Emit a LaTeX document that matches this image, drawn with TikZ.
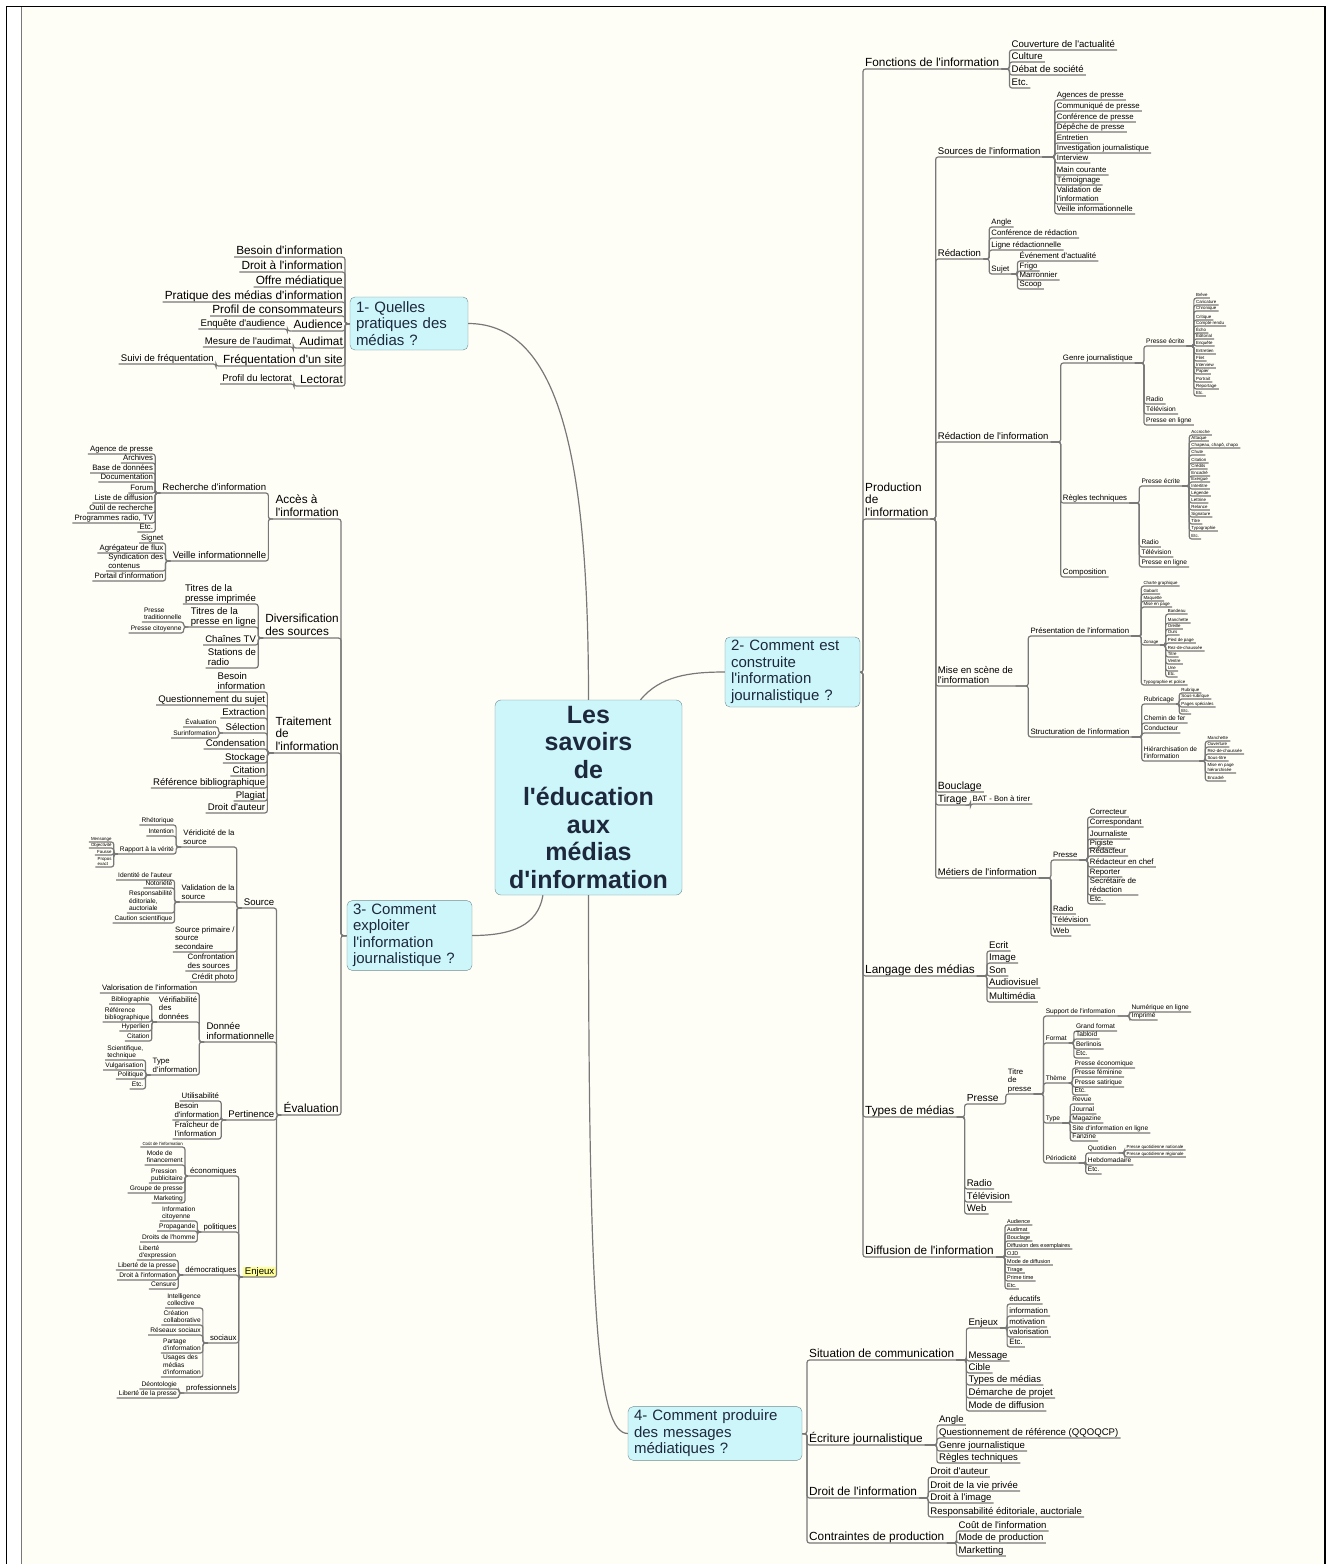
\documentclass[tikz,border=0pt]{standalone}
\usepackage{fontspec}
\setmainfont{Liberation Sans}[Ligatures=TeXOff]
\usepackage{xcolor}
\usetikzlibrary{calc}
\definecolor{bgc}{RGB}{255,254,246}
\definecolor{lnc}{RGB}{120,120,120}
\definecolor{boxc}{RGB}{204,246,250}
\definecolor{boxd}{RGB}{110,140,145}
\definecolor{ttc}{RGB}{30,40,60}
\definecolor{hlc}{RGB}{255,255,150}
%% trunk of a topic, then its children (y/text list)
\newcommand\trunkR[2]{\coordinate (#1-t) at ([xshift=#2]#1.south east);}
\newcommand\trunkL[2]{\coordinate (#1-t) at ([xshift=-#2]#1.south west);}
\newcommand\kidsR[3]{%
  \foreach \ky/\kt [count=\ki] in {#3}{%
    \node[#2, rside] (#1-\ki) at (#1-t |- 0,\ky) {\kt};
    \draw[link] (#1.south east) -| (#1-\ki.south west) -- (#1-\ki.south east);}}
\newcommand\kidsL[3]{%
  \foreach \ky/\kt [count=\ki] in {#3}{%
    \node[#2, lside] (#1-\ki) at (#1-t |- 0,\ky) {\kt};
    \draw[link] (#1.south west) -| (#1-\ki.south east) -- (#1-\ki.south west);}}
\newcommand\linkR[2]{\draw[link] (#1.south east) -| (#2.south west) -- (#2.south east);}
\newcommand\linkL[2]{\draw[link] (#1.south west) -| (#2.south east) -- (#2.south west);}

\begin{document}
\begin{tikzpicture}[x=1pt, y=-1pt,
  mm/.style={inner xsep=2pt, inner ysep=1pt, align=left, text=black},
  ua/.style={mm, text depth=1.6pt, font=\fontsize{11.8}{12.6}\selectfont},
  ub/.style={mm, text depth=1.3pt, font=\fontsize{9.6}{10.2}\selectfont},
  uc/.style={mm, text depth=1.1pt, font=\fontsize{7.8}{8.8}\selectfont},
  ud/.style={mm, text depth=.9pt, font=\fontsize{6.6}{7.6}\selectfont},
  uf/.style={mm, text depth=.8pt, inner ysep=.6pt, font=\fontsize{5.5}{6}\selectfont},
  ue/.style={mm, text depth=.7pt, inner ysep=.5pt, font=\fontsize{4.4}{4.8}\selectfont},
  rside/.style={anchor=south west},
  lside/.style={anchor=south east},
  link/.style={draw=lnc, line width=1.2pt, rounded corners=2.5pt},
  curv/.style={draw=lnc, line width=1.2pt},
  qbox/.style={draw=boxd, fill=boxc, rounded corners=5pt, align=left, inner xsep=6pt,
               font=\fontsize{15}{16.5}\selectfont, text=ttc},
  jct/.style={inner sep=0pt, minimum size=0pt}
]
\useasboundingbox (0,0) rectangle (1333,1564);
\fill[white] (0,0) rectangle (1333,1564);
\fill[bgc] (22,7) rectangle (1325,1564);
\draw[lnc, line width=1.2pt] (21.5,7) -- (21.5,1564);
\draw[black, line width=1.4pt] (6.5,1564) -- (6.5,6.5) -- (1325,6.5) -- (1325,1564);

%% centre and questions
\node[draw=boxd, fill=boxc, rounded corners=6pt, minimum width=187, minimum height=195,
      align=center, inner sep=1pt, text=ttc, font=\bfseries\fontsize{25}{27.5}\selectfont]
      (ctr) at (588.5,797.5) {Les\\savoirs\\de\\l'éducation\\aux\\médias\\d'information};
\node[qbox, text width=106, minimum height=53] (b1) at (409,323.5) {1- Quelles\\pratiques des\\médias ?};
\node[qbox, text width=123, minimum height=70] (b2) at (792.5,672) {2- Comment est\\construite\\l'information\\journalistique ?};
\node[qbox, text width=113, minimum height=69] (b3) at (409.5,935.5) {3- Comment\\exploiter\\l'information\\journalistique ?};
\node[qbox, text width=162, minimum height=53] (b4) at (715,1433.5) {4- Comment produire\\des messages\\médiatiques ?};
\draw[curv] (ctr.north) .. controls +(0,-230) and +(95,0) .. (b1.east);
\draw[curv] (ctr.62) .. controls +(20,-24) and +(-35,0) .. (b2.west);
\draw[curv] (ctr.245) .. controls +(-5,30) and +(40,0) .. (b3.east);
\draw[curv] (ctr.south) .. controls +(0,420) and +(-30,0) .. (b4.west);

%% 1- pratiques
\node[jct] (b1j) at (b1.west) {};
\coordinate (b1j-t) at (345,0);
\kidsL{b1j}{ua}{257/Besoin d'information, 272/Droit à l'information, 287/Offre médiatique,
  302/Pratique des médias d'information, 316/Profil de consommateurs}
\node[ua,lside] (aud) at (b1j-t |- 0,331) {Audience}; \linkL{b1j}{aud}
\node[ua,lside] (aum) at (b1j-t |- 0,348) {Audimat}; \linkL{b1j}{aum}
\node[ua,lside] (frq) at (b1j-t |- 0,366) {Fréquentation d'un site}; \linkL{b1j}{frq}
\node[ua,lside] (lec) at (b1j-t |- 0,386) {Lectorat}; \linkL{b1j}{lec}
\trunkL{aud}{4}\kidsL{aud}{ub}{329/Enquête d'audience}
\trunkL{aum}{4}\kidsL{aum}{ub}{347/Mesure de l'audimat}
\trunkL{frq}{5}\kidsL{frq}{ub}{364/Suivi de fréquentation}
\trunkL{lec}{4}\kidsL{lec}{ub}{384/Profil du lectorat}

%% 3- exploiter
\node[jct] (b3j) at (b3.west) {};
\coordinate (b3j-t) at (341,0);
\node[ua,lside] (acc) at (b3j-t |- 0,519) {Accès à\\l'information}; \linkL{b3j}{acc}
\node[ua,lside] (div) at (b3j-t |- 0,638) {Diversification\\des sources}; \linkL{b3j}{div}
\node[ua,lside] (trt) at (b3j-t |- 0,753) {Traitement\\de\\l'information}; \linkL{b3j}{trt}
\node[ua,lside] (eva) at (b3j-t |- 0,1115) {Évaluation}; \linkL{b3j}{eva}

\trunkL{acc}{5}
\node[ub,lside] (rch) at (acc-t |- 0,493) {Recherche d'information}; \linkL{acc}{rch}
\node[ub,lside] (vei) at (acc-t |- 0,561) {Veille informationnelle}; \linkL{acc}{vei}
\trunkL{rch}{5}\kidsL{rch}{uc}{454/Agence de presse, 463/Archives, 473/Base de données,
  482/Documentation, 493/Forum, 503/Liste de diffusion, 513/Outil de recherche,
  523/{Programmes radio, TV}, 532/Etc.}
\trunkL{vei}{5}\kidsL{vei}{uc}{543/Signet, 553/Agrégateur de flux,
  571/Syndication des\\contenus, 581/Portail d'information}

\trunkL{div}{5}
\kidsL{div}{ub}{604/Titres de la\\presse imprimée, 645/Chaînes TV, 668/Stations de\\radio}
\node[ub,lside] (tpl) at (div-t |- 0,627) {Titres de la\\presse en ligne}; \linkL{div}{tpl}
\trunkL{tpl}{5}\kidsL{tpl}{ud}{622/Presse\\traditionnelle, 633/Presse citoyenne}

\trunkL{trt}{6}
\kidsL{trt}{ub}{692/Besoin\\information, 705/Questionnement du sujet, 718/Extraction,
  749/Condensation, 763/Stockage, 776/Citation, 788/Référence bibliographique,
  801/Plagiat, 813/Droit d'auteur}
\node[ub,lside] (sel) at (trt-t |- 0,733) {Sélection}; \linkL{trt}{sel}
\trunkL{sel}{5}\kidsL{sel}{ud}{727/Évaluation, 738/Surinformation}

\trunkL{eva}{5}
\node[ub,lside] (sou) at (eva-t |- 0,908) {Source}; \linkL{eva}{sou}
\node[ub,lside] (don) at (eva-t |- 0,1042) {Donnée\\informationnelle}; \linkL{eva}{don}
\node[ub,lside] (per) at (eva-t |- 0,1120) {Pertinence}; \linkL{eva}{per}
\node[ub,lside,fill=hlc] (enj) at (eva-t |- 0,1277) {Enjeux}; \linkL{eva}{enj}

\trunkL{sou}{5}
\node[uc,lside] (ver) at (sou-t |- 0,847) {Véridicité de la\\source}; \linkL{sou}{ver}
\node[uc,lside] (val) at (sou-t |- 0,902) {Validation de la\\source}; \linkL{sou}{val}
\node[uc,lside] (sps) at (sou-t |- 0,952) {Source primaire /\\source\\secondaire}; \linkL{sou}{sps}
\kidsL{sou}{uc}{971/Confrontation\\des sources, 982/Crédit photo}
\trunkL{ver}{5}\kidsL{ver}{ud}{825/Rhétorique, 836/Intention}
\node[ud,lside] (rap) at (ver-t |- 0,854) {Rapport à la vérité}; \linkL{ver}{rap}
\trunkL{rap}{4}\kidsL{rap}{ue}{842/Mensonge, 848/Objectivité, 855/Fausse, 867/Propos\\exact}
\trunkL{val}{5}\kidsL{val}{ud}{880/Identité de l'auteur, 888/Notoriété,
  913/{Responsabilité\\éditoriale,\\auctoriale}, 923/Caution scientifique}

\trunkL{don}{5}
\kidsL{don}{uc}{993/Valorisation de l'information}
\node[uc,lside] (vrf) at (don-t |- 0,1022) {Vérifiabilité\\des\\données}; \linkL{don}{vrf}
\node[uc,lside] (tyi) at (don-t |- 0,1075) {Type\\d'information}; \linkL{don}{tyi}
\trunkL{vrf}{5}\kidsL{vrf}{ud}{1004/Bibliographie, 1022/Référence\\bibliographique,
  1031/Hyperlien, 1041/Citation}
\trunkL{tyi}{5}\kidsL{tyi}{ud}{1060/{Scientifique,\\technique}, 1070/Vulgarisation,
  1079/Politique, 1089/Etc.}

\trunkL{per}{5}\kidsL{per}{uc}{1101/Utilisabilité, 1120/Besoin\\d'information,
  1139/Fraîcheur de\\l'information}

\trunkL{enj}{4}
\node[uc,lside] (eco) at (enj-t |- 0,1176) {économiques}; \linkL{enj}{eco}
\node[uc,lside] (pol) at (enj-t |- 0,1232) {politiques}; \linkL{enj}{pol}
\node[uc,lside] (dem) at (enj-t |- 0,1275) {démocratiques}; \linkL{enj}{dem}
\node[uc,lside] (soc) at (enj-t |- 0,1343) {sociaux}; \linkL{enj}{soc}
\node[uc,lside] (pro) at (enj-t |- 0,1393) {professionnels}; \linkL{enj}{pro}
\trunkL{eco}{3}
\node[ue,lside] (cou) at (eco-t |- 0,1147) {Coût de l'information}; \linkL{eco}{cou}
\kidsL{eco}{ud}{1165/Mode de\\financement, 1183/Pression\\publicitaire,
  1193/Groupe de presse, 1203/Marketing}
\trunkL{pol}{4}\kidsL{pol}{ud}{1221/Information\\citoyenne, 1231/Propagande, 1242/Droits de l'homme}
\trunkL{dem}{5}\kidsL{dem}{ud}{1260/Liberté\\d'expression, 1270/Liberté de la presse,
  1280/Droit à l'information, 1289/Censure}
\trunkL{soc}{5}\kidsL{soc}{ud}{1308/Intelligence\\collective, 1325/Création\\collaborative,
  1335/Réseaux sociaux, 1353/Partage\\d'information, 1377/Usages des\\médias\\d'information}
\trunkL{pro}{5}\kidsL{pro}{ud}{1389/Déontologie, 1398/Liberté de la presse}

%% 2- construite
\node[jct] (b2j) at (b2.east) {};
\coordinate (b2j-t) at (863,0);
\node[ua,rside] (fct) at (b2j-t |- 0,69) {Fonctions de l'information}; \linkR{b2j}{fct}
\node[ua,rside] (prd) at (b2j-t |- 0,519) {Production\\de\\l'information}; \linkR{b2j}{prd}
\node[ua,rside] (lng) at (b2j-t |- 0,976) {Langage des médias}; \linkR{b2j}{lng}
\node[ua,rside] (tym) at (b2j-t |- 0,1117) {Types de médias}; \linkR{b2j}{tym}
\node[ua,rside] (dif) at (b2j-t |- 0,1257) {Diffusion de l'information}; \linkR{b2j}{dif}

\trunkR{fct}{8}\kidsR{fct}{ub}{50/Couverture de l'actualité, 62/Culture, 75/Débat de société, 88/Etc.}

\trunkR{prd}{5}
\node[ub,rside] (src) at (prd-t |- 0,157) {Sources de l'information}; \linkR{prd}{src}
\node[ub,rside] (red) at (prd-t |- 0,259) {Rédaction}; \linkR{prd}{red}
\node[ub,rside] (rdi) at (prd-t |- 0,442) {Rédaction de l'information}; \linkR{prd}{rdi}
\node[ub,rside] (mes) at (prd-t |- 0,686) {Mise en scène de\\l'information}; \linkR{prd}{mes}
\node[ub,rside,font=\fontsize{10.5}{11}\selectfont] (bcl) at (prd-t |- 0,792) {Bouclage}; \linkR{prd}{bcl}
\node[ub,rside,font=\fontsize{10.5}{11}\selectfont] (tir) at (prd-t |- 0,805) {Tirage}; \linkR{prd}{tir}
\node[ub,rside] (met) at (prd-t |- 0,878) {Métiers de l'information}; \linkR{prd}{met}
\trunkR{tir}{1}\kidsR{tir}{uc}{804/BAT - Bon à tirer}

\trunkR{src}{12}\kidsR{src}{uc}{100/Agences de presse, 111/Communiqué de presse,
  122/Conférence de presse, 132/Dépêche de presse, 143/Entretien,
  153/Investigation journalistique, 163/Interview, 175/Main courante, 185/Témoignage,
  204/Validation de\\l'information, 214/Veille informationnelle}

\trunkR{red}{6}\kidsR{red}{uc}{227/Angle, 238/Conférence de rédaction, 250/Ligne rédactionnelle}
\node[uc,rside] (suj) at (red-t |- 0,274) {Sujet}; \linkR{red}{suj}
\trunkR{suj}{6}\kidsR{suj}{uc}{261/Événement d'actualité, 271/Frigo, 280/Marronnier, 289/Scoop}

\trunkR{rdi}{10}
\node[uc,rside] (gen) at (rdi-t |- 0,363) {Genre journalistique}; \linkR{rdi}{gen}
\node[uc,rside] (rgt) at (rdi-t |- 0,503) {Règles techniques}; \linkR{rdi}{rgt}
\kidsR{rdi}{uc}{577/Composition}
\trunkR{gen}{9}
\node[ud,rside] (pe1) at (gen-t |- 0,346) {Presse écrite}; \linkR{gen}{pe1}
\kidsR{gen}{ud}{404/Radio, 414/Télévision, 425/Presse en ligne}
\trunkR{pe1}{7}\kidsR{pe1}{ue}{298/Brève, 305/Caricature, 311/Chronique, 320/Critique,
  326/Compte rendu, 333/Écho, 339/Éditorial, 346/Enquête, 354/Entretien, 361/Filet,
  368/Interview, 374/Papier, 382/Portrait, 389/Reportage, 396/Etc.}
\trunkR{rgt}{10}
\node[ud,rside] (pe2) at (rgt-t |- 0,486) {Presse écrite}; \linkR{rgt}{pe2}
\kidsR{rgt}{ud}{547/Radio, 557/Télévision, 567/Presse en ligne}
\trunkR{pe2}{7}\kidsR{pe2}{ue}{435/Accroche, 441/Attaque, 448/{Chapeau, chapô, chapo},
  455/Chute, 463/Citation, 469/Crédits, 476/Encadré, 482/Exergue, 489/Intertitre,
  496/Légende, 503/Lettrine, 510/Relance, 517/Signature, 524/Titre, 531/Typographie, 539/Etc.}

\trunkR{mes}{13}
\node[uc,rside] (pri) at (mes-t |- 0,636) {Présentation de l'information}; \linkR{mes}{pri}
\node[uc,rside] (sti) at (mes-t |- 0,737) {Structuration de l'information}; \linkR{mes}{sti}
\trunkR{pri}{10}
\kidsR{pri}{ue}{586/Charte graphique, 594/Gabarit, 601/Maquette, 607/Mise en page,
  685/Typographie et police}
\node[ue,rside] (zon) at (pri-t |- 0,645) {Zonage}; \linkR{pri}{zon}
\trunkR{zon}{5}\kidsR{zon}{ue}{614/Bandeau, 623/Manchette, 629/Oreille, 635/Ours,
  643/Pied de page, 651/Rez-de-chaussée, 657/Titre, 664/Ventre, 671/Une, 677/Etc.}
\trunkR{sti}{10}
\node[ud,rside] (rub) at (sti-t |- 0,704) {Rubricage}; \linkR{sti}{rub}
\kidsR{sti}{ud}{723/Chemin de fer, 733/Conducteur}
\node[ud,rside] (hie) at (sti-t |- 0,761) {Hiérarchisation de\\l'information}; \linkR{sti}{hie}
\trunkR{rub}{3}\kidsR{rub}{ue}{693/Rubrique, 699/Sous-rubrique, 707/Pages spéciales, 714/Etc.}
\trunkR{hie}{6}\kidsR{hie}{ue}{741/Manchette, 747/Ouverture, 754/Rez-de-chaussée,
  761/Sous-titre, 773/Mise en page\\hiérarchisée, 781/Encadré}

\trunkR{met}{12}
\node[uc,rside] (pr3) at (met-t |- 0,860) {Presse}; \linkR{met}{pr3}
\kidsR{met}{uc}{914/Radio, 925/Télévision, 936/Web}
\trunkR{pr3}{8}\kidsR{pr3}{uc}{817/Correcteur, 827/Correspondant, 839/Journaliste, 848/Pigiste,
  856/Rédacteur, 867/Rédacteur en chef, 877/Reporter, 895/Secrétaire de\\rédaction, 904/Etc.}

\trunkR{lng}{10}\kidsR{lng}{ub}{951/Ecrit, 963/Image, 976/Son, 988/Audiovisuel, 1002/Multimédia}

\trunkR{tym}{8}
\node[ub,rside,font=\fontsize{10.2}{11}\selectfont] (pr4) at (tym-t |- 0,1104) {Presse}; \linkR{tym}{pr4}
\kidsR{tym}{ub}{1189/Radio, 1202/Télévision, 1214/Web}
\trunkR{pr4}{5}
\node[uc,rside] (tpr) at (pr4-t |- 0,1094) {Titre\\de\\presse}; \linkR{pr4}{tpr}
\trunkR{tpr}{10}
\node[ud,rside] (sup) at (tpr-t |- 0,1016) {Support de l'information}; \linkR{tpr}{sup}
\node[ud,rside] (fmt) at (tpr-t |- 0,1043) {Format}; \linkR{tpr}{fmt}
\node[ud,rside] (thm) at (tpr-t |- 0,1083) {Thème}; \linkR{tpr}{thm}
\node[ud,rside] (tpe) at (tpr-t |- 0,1123) {Type}; \linkR{tpr}{tpe}
\node[ud,rside] (pdc) at (tpr-t |- 0,1163) {Périodicité}; \linkR{tpr}{pdc}
\trunkR{sup}{12}\kidsR{sup}{ud}{1012/Numérique en ligne, 1020/Imprimé}
\trunkR{fmt}{5}\kidsR{fmt}{ud}{1031/Grand format, 1039/Tabloïd, 1049/Berlinois, 1058/Etc.}
\trunkR{thm}{4}\kidsR{thm}{ud}{1068/Presse économique, 1077/Presse féminine,
  1087/Presse satirique, 1095/Etc.}
\trunkR{tpe}{8}\kidsR{tpe}{ud}{1104/Revue, 1114/Journal, 1123/Magazine,
  1133/Site d'information en ligne, 1141/Fanzine}
\trunkR{pdc}{7}
\node[ud,rside] (quo) at (pdc-t |- 0,1153) {Quotidien}; \linkR{pdc}{quo}
\kidsR{pdc}{ud}{1165/Hebdomadaire, 1174/Etc.}
\trunkR{quo}{6}\kidsR{quo}{ue}{1150/Presse quotidienne nationale, 1157/Presse quotidienne régionale}

\trunkR{dif}{9}\kidsR{dif}{uf}{1225/Audience, 1233/Audimat, 1241/Bouclage,
  1249/Diffusion des exemplaires, 1257/OJD, 1265/Mode de diffusion, 1273/Tirage,
  1281/Prime time, 1289/Etc.}

%% 4- produire
\node[jct] (b4j) at (b4.east) {};
\coordinate (b4j-t) at (807,0);
\node[ua,rside] (sit) at (b4j-t |- 0,1360) {Situation de communication}; \linkR{b4j}{sit}
\node[ua,rside] (ecr) at (b4j-t |- 0,1445) {Écriture journalistique}; \linkR{b4j}{ecr}
\node[ua,rside] (dri) at (b4j-t |- 0,1498) {Droit de l'information}; \linkR{b4j}{dri}
\node[ua,rside] (cpr) at (b4j-t |- 0,1543) {Contraintes de production}; \linkR{b4j}{cpr}
\trunkR{sit}{10}
\node[ub,rside] (enx) at (sit-t |- 0,1328) {Enjeux}; \linkR{sit}{enx}
\kidsR{sit}{ub}{1361/Message, 1373/Cible, 1385/Types de médias, 1398/Démarche de projet,
  1411/Mode de diffusion}
\trunkR{enx}{7}\kidsR{enx}{uc}{1304/éducatifs, 1316/information, 1327/motivation,
  1337/valorisation, 1347/Etc.}
\trunkR{ecr}{12}\kidsR{ecr}{ub}{1425/Angle, 1438/Questionnement de référence (QQOQCP),
  1451/Genre journalistique, 1463/Règles techniques}
\trunkR{dri}{9}\kidsR{dri}{ub}{1477/Droit d'auteur, 1491/Droit de la vie privée,
  1503/Droit à l'image, 1517/{Responsabilité éditoriale, auctoriale}}
\trunkR{cpr}{10}\kidsR{cpr}{ub}{1531/Coût de l'information, 1543/Mode de production,
  1556/Marketting}
\end{tikzpicture}
\end{document}
